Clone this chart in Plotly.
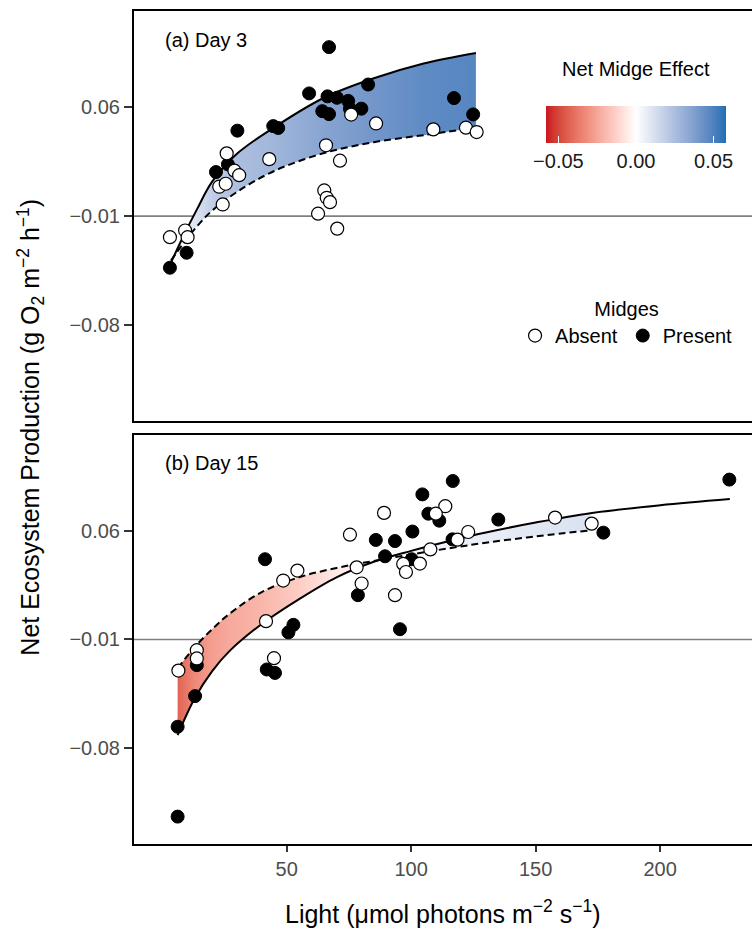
import plotly.graph_objects as go

# ---------------- data ----------------
# Panel (a) Day 3 observations
a_present_x = [67.0, 59.0, 66.4, 70.2, 74.7, 82.7, 64.3, 67.0, 75.4, 80.0, 117.2, 124.9,
               30.2, 44.6, 46.6, 21.6, 26.4, 9.8, 3.1]
a_present_y = [0.0985, 0.0688, 0.0669, 0.0660, 0.0640, 0.0745, 0.0574, 0.0555, 0.0590, 0.0590,
               0.0658, 0.0553, 0.0449, 0.0478, 0.0466, 0.0183, 0.0232, -0.0335, -0.0431]
a_absent_x = [25.9, 29.0, 30.9, 22.9, 25.5, 24.3, 43.0, 65.8, 71.4, 65.1, 66.1, 67.4, 62.6,
              70.3, 75.9, 85.9, 108.9, 122.0, 126.3, 3.1, 9.2, 10.2]
a_absent_y = [0.0303, 0.0192, 0.0163, 0.0089, 0.0108, -0.0025, 0.0266, 0.0355, 0.0256, 0.0065,
              0.0018, -0.0010, -0.0084, -0.0180, 0.0552, 0.0495, 0.0457, 0.0468, 0.0440,
              -0.0235, -0.0192, -0.0235]
# Panel (a) fitted curves
a_curve_x = [3.5, 8, 14, 20, 30, 45, 65, 85, 105, 126]
a_fit_present = [-0.0400, -0.0245, -0.0055, 0.0120, 0.0300, 0.0470, 0.0660, 0.0785, 0.0880, 0.0948]
a_fit_absent = [-0.0385, -0.0285, -0.0165, -0.0065, 0.0055, 0.0190, 0.0305, 0.0375, 0.0420, 0.0467]

# Panel (b) Day 15 observations
b_present_x = [116.7, 104.5, 106.9, 111.3, 100.5, 85.8, 93.5, 89.5, 100.2, 116.6, 78.6, 95.5,
               41.3, 52.7, 50.7, 42.0, 45.3, 13.9, 13.2, 6.2, 6.2, 135.0, 177.2, 227.8]
b_present_y = [0.0919, 0.0833, 0.0709, 0.0664, 0.0594, 0.0540, 0.0533, 0.0435, 0.0416, 0.0544,
               0.0185, -0.0034, 0.0416, -0.0006, -0.0054, -0.0293, -0.0315, -0.0265, -0.0464,
               -0.0661, -0.1239, 0.0671, 0.0587, 0.0928]
b_absent_x = [89.1, 75.4, 113.7, 109.9, 78.1, 80.1, 93.5, 96.8, 97.9, 103.5, 107.7, 118.6,
              122.9, 54.3, 48.6, 41.7, 44.9, 13.9, 13.9, 6.5, 157.8, 172.5]
b_absent_y = [0.0714, 0.0574, 0.0757, 0.0709, 0.0364, 0.0260, 0.0185, 0.0386, 0.0334, 0.0388,
              0.0479, 0.0542, 0.0591, 0.0343, 0.0279, 0.0018, -0.0220, -0.0169, -0.0222,
              -0.0300, 0.0684, 0.0645]
# Panel (b) fitted curves
b_curve_x = [6.2, 13, 20, 27, 40, 55, 70, 85, 100, 115, 130, 150, 172]
b_fit_present = [-0.0715, -0.0480, -0.0305, -0.0175, 0.0000, 0.0160, 0.0300, 0.0400, 0.0470,
                 0.0532, 0.0588, 0.0652, 0.0712]
b_fit_absent = [-0.0285, -0.0150, -0.0035, 0.0065, 0.0205, 0.0300, 0.0360, 0.0405, 0.0447,
                0.0486, 0.0522, 0.0563, 0.0602]
b_present_ext_x = [200, 228]
b_present_ext_y = [0.0763, 0.0803]

ref_line_y = -0.01
y_tickvals = [-0.08, -0.01, 0.06]
y_ticktext = ["\u22120.08", "\u22120.01", "0.06"]
x_tickvals = [50, 100, 150, 200]
effect_tickvals = [-0.05, 0.0, 0.05]
effect_ticktext = ["\u22120.05", "0.00", "0.05"]
effect_limit = 0.058
legend_groups = ["Absent", "Present"]

# ---------------- colour helpers (Lab interpolation like ggplot) ----------------
LOW, MID, HIGH = "#C9161F", "#FFFFFF", "#1F6FB4"


def hex2rgb(h):
    h = h.lstrip("#")
    return [int(h[i:i + 2], 16) / 255 for i in (0, 2, 4)]


def rgb2lab(c):
    def lin(u):
        return u / 12.92 if u <= 0.04045 else ((u + 0.055) / 1.055) ** 2.4
    r, g, b = [lin(u) for u in c]
    X = (0.4124 * r + 0.3576 * g + 0.1805 * b) / 0.95047
    Y = (0.2126 * r + 0.7152 * g + 0.0722 * b)
    Z = (0.0193 * r + 0.1192 * g + 0.9505 * b) / 1.08883

    def f(t):
        return t ** (1 / 3) if t > 0.008856 else 7.787 * t + 16 / 116
    fx, fy, fz = f(X), f(Y), f(Z)
    return [116 * fy - 16, 500 * (fx - fy), 200 * (fy - fz)]


def lab2rgb(lab):
    L, a, b = lab
    fy = (L + 16) / 116
    fx = fy + a / 500
    fz = fy - b / 200

    def finv(t):
        return t ** 3 if t ** 3 > 0.008856 else (t - 16 / 116) / 7.787
    X, Y, Z = finv(fx) * 0.95047, finv(fy), finv(fz) * 1.08883
    r = 3.2406 * X - 1.5372 * Y - 0.4986 * Z
    g = -0.9689 * X + 1.8758 * Y + 0.0415 * Z
    bb = 0.0557 * X - 0.2040 * Y + 1.0570 * Z

    def gam(u):
        u = max(0.0, min(1.0, u))
        return 12.92 * u if u <= 0.0031308 else 1.055 * u ** (1 / 2.4) - 0.055
    return [round(255 * gam(u)) for u in (r, g, bb)]


LAB_LOW, LAB_MID, LAB_HIGH = rgb2lab(hex2rgb(LOW)), rgb2lab(hex2rgb(MID)), rgb2lab(hex2rgb(HIGH))


def effect_color(v):
    t = max(-1.0, min(1.0, v / effect_limit))
    end = LAB_LOW if t < 0 else LAB_HIGH
    t = abs(t)
    lab = [LAB_MID[i] + (end[i] - LAB_MID[i]) * t for i in range(3)]
    r, g, b = lab2rgb(lab)
    return f"rgb({r},{g},{b})"


cbar_scale = []
nst = 24
for i in range(nst + 1):
    v = -effect_limit + 2 * effect_limit * i / nst
    cbar_scale.append([i / nst, effect_color(v)])

FONT = "Liberation Sans, Arial, Helvetica, sans-serif"
MARKERS = {
    "Present": dict(size=13, color="black", line=dict(color="black", width=1)),
    "Absent": dict(size=13, color="white", line=dict(color="black", width=1.2)),
}

fig = go.Figure()


def add_band(xs, present, absent, xa, ya):
    x0, x1 = xs[0], xs[-1]
    stops = []
    for x, p, a in zip(xs, present, absent):
        stops.append([(x - x0) / (x1 - x0), effect_color(p - a)])
    fig.add_trace(go.Scatter(x=xs, y=absent, mode="lines", line=dict(width=0, shape="spline"),
                             xaxis=xa, yaxis=ya, showlegend=False, hoverinfo="skip"))
    fig.add_trace(go.Scatter(x=xs, y=present, mode="lines", line=dict(width=0, shape="spline"),
                             fill="tonexty",
                             fillgradient=dict(type="horizontal", colorscale=stops, start=x0, stop=x1),
                             xaxis=xa, yaxis=ya, showlegend=False, hoverinfo="skip"))


def add_lines(xs_p, ys_p, xs_a, ys_a, xa, ya):
    fig.add_trace(go.Scatter(x=xs_a, y=ys_a, mode="lines",
                             line=dict(color="black", width=2, dash="7px,4px", shape="spline"),
                             xaxis=xa, yaxis=ya, showlegend=False, hoverinfo="skip"))
    fig.add_trace(go.Scatter(x=xs_p, y=ys_p, mode="lines",
                             line=dict(color="black", width=2, shape="spline"),
                             xaxis=xa, yaxis=ya, showlegend=False, hoverinfo="skip"))


def add_points(px, py, ax, ay, xa, ya):
    fig.add_trace(go.Scatter(x=px, y=py, mode="markers", name="Present", marker=MARKERS["Present"],
                             xaxis=xa, yaxis=ya, showlegend=False))
    fig.add_trace(go.Scatter(x=ax, y=ay, mode="markers", name="Absent", marker=MARKERS["Absent"],
                             xaxis=xa, yaxis=ya, showlegend=False))


# panel (a)
add_band(a_curve_x, a_fit_present, a_fit_absent, "x", "y")
add_lines(a_curve_x, a_fit_present, a_curve_x, a_fit_absent, "x", "y")
add_points(a_present_x, a_present_y, a_absent_x, a_absent_y, "x", "y")

# panel (b)
add_band(b_curve_x, b_fit_present, b_fit_absent, "x2", "y2")
add_lines(b_curve_x + b_present_ext_x, b_fit_present + b_present_ext_y,
          b_curve_x, b_fit_absent, "x2", "y2")
add_points(b_present_x, b_present_y, b_absent_x, b_absent_y, "x2", "y2")

# legend entries (Absent first, Present second)
for g in legend_groups:
    fig.add_trace(go.Scatter(x=[None], y=[None], mode="markers", name=g, marker=MARKERS[g],
                             xaxis="x", yaxis="y", showlegend=True))

# colourbar carrier (outside visible range)
fig.add_trace(go.Scatter(
    x=[-100], y=[0], mode="markers", xaxis="x", yaxis="y", showlegend=False, hoverinfo="skip",
    marker=dict(size=1, color=[0], cmin=-effect_limit, cmax=effect_limit, colorscale=cbar_scale,
                showscale=True,
                colorbar=dict(orientation="h", x=0.8123, xanchor="center", y=0.886, yanchor="top",
                              len=180, lenmode="pixels", thickness=37, thicknessmode="pixels",
                              outlinewidth=0, xpad=0, ypad=0,
                              tickvals=effect_tickvals, ticktext=effect_ticktext,
                              ticks="inside", ticklen=7, tickcolor="white", tickwidth=1,
                              tickfont=dict(size=20, color="#1a1a1a", family=FONT)))))

x_range = [-11.33, 236.9]
y_range = [-0.1415, 0.1217]

common_x = dict(range=x_range, showline=True, linecolor="black", linewidth=2, mirror=True,
                showgrid=False, zeroline=False)
common_y = dict(range=y_range, showline=True, linecolor="black", linewidth=2, mirror=False,
                showgrid=False, zeroline=False, tickvals=y_tickvals, ticktext=y_ticktext,
                ticks="outside", ticklen=8, tickwidth=1.5, tickcolor="#333333",
                tickfont=dict(size=20, color="#4D4D4D", family=FONT))

fig.update_layout(
    width=752, height=932,
    margin=dict(l=134, r=0, t=11, b=88),
    paper_bgcolor="white", plot_bgcolor="white",
    font=dict(family=FONT, size=20, color="black"),
    xaxis=dict(**common_x, anchor="y", domain=[0, 1], showticklabels=False, ticks=""),
    yaxis=dict(**common_y, anchor="x", domain=[0.5078, 1.0]),
    xaxis2=dict(**common_x, anchor="y2", domain=[0, 1], tickvals=x_tickvals, ticks="outside",
                ticklen=6, tickwidth=1.5, tickcolor="#333333",
                tickfont=dict(size=20, color="#4D4D4D", family=FONT)),
    yaxis2=dict(**common_y, anchor="x2", domain=[0.0, 0.4914]),
    legend=dict(orientation="h", x=0.797, xanchor="center", y=0.665, yanchor="top",
                traceorder="normal",
                title=dict(text="Midges", side="top center", font=dict(size=20, color="black")),
                font=dict(size=20, color="black", family=FONT), bgcolor="rgba(0,0,0,0)",
                itemsizing="trace"),
    shapes=[
        dict(type="line", xref="x domain", yref="y", x0=0, x1=1, y0=ref_line_y, y1=ref_line_y,
             line=dict(color="#808080", width=1.6), layer="below"),
        dict(type="line", xref="x2 domain", yref="y2", x0=0, x1=1, y0=ref_line_y, y1=ref_line_y,
             line=dict(color="#808080", width=1.6), layer="below"),
    ],
    annotations=[
        dict(text="(a) Day 3", xref="paper", yref="paper", x=0.0464, y=0.9652,
             xanchor="left", yanchor="middle", showarrow=False, font=dict(size=20)),
        dict(text="(b) Day 15", xref="paper", yref="paper", x=0.0464, y=0.4574,
             xanchor="left", yanchor="middle", showarrow=False, font=dict(size=20)),
        dict(text="Net Midge Effect", xref="paper", yref="paper", x=0.8123, y=0.9304,
             xanchor="center", yanchor="middle", showarrow=False, font=dict(size=20)),
        dict(text="Light (\u03bcmol photons m<sup>\u22122</sup> s<sup>\u22121</sup>)",
             xref="paper", yref="paper", x=0.5, y=-0.0816, xanchor="center", yanchor="middle",
             showarrow=False, font=dict(size=25)),
        dict(text="Net Ecosystem Production (g O<sub>2</sub> m<sup>\u22122</sup> h<sup>\u22121</sup>)",
             xref="paper", yref="paper", x=-0.168, y=0.5, xanchor="center", yanchor="middle",
             textangle=-90, showarrow=False, font=dict(size=25)),
    ],
)

fig.write_html("out.html")
